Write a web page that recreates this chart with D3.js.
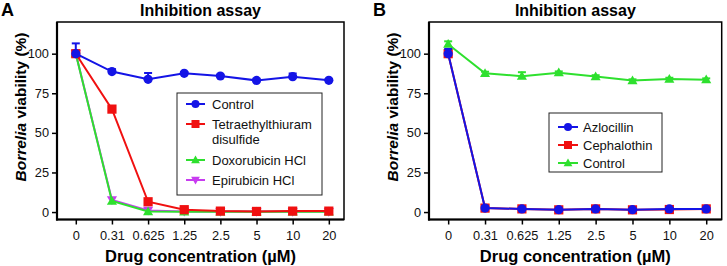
<!DOCTYPE html>
<html><head><meta charset="utf-8">
<script src="https://cdn.jsdelivr.net/npm/d3@7"></script>
<style>body{margin:0;background:#fff;} svg{display:block;font-family:"Liberation Sans",Arial,sans-serif;}</style>
</head><body><svg id="c" width="727" height="266"></svg>
<script>
const categories = ["0","0.31","0.625","1.25","2.5","5","10","20"];
const yTicks = [0,25,50,75,100];

// Panel A
const aControl = [100, 88.7, 83.8, 87.6, 85.9, 83.1, 85.5, 83.2];
const aControlErr = [6.5, 1.5, 4, 0.8, 0.8, 0.8, 2, 0.8];
const aTetra = [100, 65, 6.5, 1.5, 0.6, 0.4, 0.6, 0.6];
const aDoxo = [100, 7, 0.3, 0.2, 0.2, 0.2, 0.2, 0.2];
const aEpi = [100, 7.6, 1, 0.4, 0.3, 0.3, 0.3, 0.3];

// Panel B
const bAzlo = [100, 2.5, 2, 1.5, 2, 1.5, 2, 2];
const bAzloErr = [3, 1, 0.8, 0.5, 0.5, 0.5, 0.5, 0.5];
const bCeph = [100, 2.5, 2, 1.4, 2, 1.4, 1.6, 2];
const bControl = [106, 87.6, 85.8, 88, 85.6, 83, 84, 83.6];
const bControlErr = [1.8, 1, 2.5, 0.8, 0.8, 0.8, 0.8, 0.8];

const C = {blue:"#1414e6", red:"#f01010", green:"#2ee02e", purple:"#c83cf0"};
const svg = d3.select("#c");

function panel(o){
  const x = d3.scaleLinear().domain([-0.52, 7.42]).range([o.left, o.right]);
  const y = d3.scaleLinear().domain([-4.7, 120]).range([219.5, 22]);
  const g = svg.append("g");
  g.append("rect").attr("x", o.left).attr("y", 22).attr("width", o.right-o.left).attr("height", 197.5)
    .attr("fill","none").attr("stroke","#000").attr("stroke-width",1.5);
  g.append("line").attr("x1",o.left).attr("x2",o.left).attr("y1",22).attr("y2",220.5).attr("stroke","#000").attr("stroke-width",2.2);
  g.append("line").attr("x1",o.left-1).attr("x2",o.right).attr("y1",219.5).attr("y2",219.5).attr("stroke","#000").attr("stroke-width",2.2);
  const ya = g.append("g").attr("transform",`translate(${o.left},0)`)
    .call(d3.axisLeft(y).tickValues(yTicks).tickSize(5).tickPadding(3));
  ya.select(".domain").remove();
  ya.selectAll("line").attr("stroke-width",1.5);
  ya.selectAll("text").attr("font-size",12.8).attr("font-family","Liberation Sans, Arial").attr("fill","#111");
  const xa = g.append("g").attr("transform",`translate(0,219.5)`)
    .call(d3.axisBottom(x).tickValues(d3.range(categories.length)).tickFormat(i=>categories[i]).tickSize(5).tickPadding(6));
  xa.select(".domain").remove();
  xa.selectAll("line").attr("stroke-width",1.5);
  xa.selectAll("text").attr("font-size",12.8).attr("font-family","Liberation Sans, Arial").attr("fill","#111");
  g.append("text").attr("x",(o.left+o.right)/2).attr("y",16).attr("text-anchor","middle")
    .attr("font-weight","bold").attr("font-size",16).text("Inhibition assay");
  g.append("text").attr("x",o.letterX).attr("y",16).attr("font-weight","bold").attr("font-size",18).text(o.letter);
  g.append("text").attr("x",(o.left+o.right)/2).attr("y",262).attr("text-anchor","middle")
    .attr("font-weight","bold").attr("font-size",16.5).text("Drug concentration (µM)");
  const yt = g.append("text").attr("transform",`translate(${o.ytX},107) rotate(-90)`).attr("text-anchor","middle")
    .attr("font-weight","bold").attr("font-size",15.5);
  yt.append("tspan").attr("font-style","italic").text("Borrelia");
  yt.append("tspan").text(" viability (%)");

  const line = d3.line().x((d,i)=>x(i)).y(d=>y(d));
  o.series.forEach(s=>{
    const sg = g.append("g");
    if (s.err){
      s.values.forEach((v,i)=>{
        const yt = y(v+s.err[i]);
        sg.append("line").attr("x1",x(i)).attr("x2",x(i)).attr("y1",y(v)).attr("y2",yt).attr("stroke",s.color).attr("stroke-width",2);
        sg.append("line").attr("x1",x(i)-4).attr("x2",x(i)+4).attr("y1",yt).attr("y2",yt).attr("stroke",s.color).attr("stroke-width",2);
      });
    }
    sg.append("path").datum(s.values).attr("d",line).attr("fill","none").attr("stroke",s.color).attr("stroke-width",2);
    s.values.forEach((v,i)=>marker(sg, s.shape, x(i), y(v), s.color, 4.6));
  });
  const L = o.legend;
  g.append("rect").attr("x",L.x).attr("y",L.y).attr("width",L.w).attr("height",L.h)
    .attr("fill","#fff").attr("stroke","#222").attr("stroke-width",1);
  L.items.forEach(it=>{
    const lg = g.append("g");
    lg.append("line").attr("x1",L.lx1).attr("x2",L.lx2).attr("y1",it.y).attr("y2",it.y).attr("stroke",it.color).attr("stroke-width",2);
    marker(lg, it.shape, (L.lx1+L.lx2)/2, it.y, it.color, 4);
    it.lines.forEach((t,k)=>{
      lg.append("text").attr("x",L.tx).attr("y",it.y+4.6+k*15.5).attr("font-size",13).attr("fill","#111").text(t);
    });
  });
}

function marker(g, shape, cx, cy, color, r){
  if (shape==="circle") g.append("circle").attr("cx",cx).attr("cy",cy).attr("r",r).attr("fill",color);
  else if (shape==="square") g.append("rect").attr("x",cx-r).attr("y",cy-r).attr("width",2*r).attr("height",2*r).attr("fill",color);
  else if (shape==="up") g.append("path").attr("d",`M${cx},${cy-r*1.1}L${cx+r*1.1},${cy+r*0.8}L${cx-r*1.1},${cy+r*0.8}Z`).attr("fill",color);
  else if (shape==="down") g.append("path").attr("d",`M${cx},${cy+r*1.1}L${cx+r*1.1},${cy-r*0.8}L${cx-r*1.1},${cy-r*0.8}Z`).attr("fill",color);
}

panel({left:57, right:344, letter:"A", letterX:1, ytX:26,
  series:[
    {values:aEpi, color:C.purple, shape:"down"},
    {values:aDoxo, color:C.green, shape:"up"},
    {values:aTetra, color:C.red, shape:"square"},
    {values:aControl, err:aControlErr, color:C.blue, shape:"circle"}
  ],
  legend:{x:177, y:93, w:145, h:102, lx1:186, lx2:205, tx:212,
    items:[
      {y:104, color:C.blue, shape:"circle", lines:["Control"]},
      {y:124, color:C.red, shape:"square", lines:["Tetraethylthiuram","disulfide"]},
      {y:160, color:C.green, shape:"up", lines:["Doxorubicin HCl"]},
      {y:180, color:C.purple, shape:"down", lines:["Epirubicin HCl"]}
    ]}
});

panel({left:429, right:721.7, letter:"B", letterX:373, ytX:398,
  series:[
    {values:bControl, err:bControlErr, color:C.green, shape:"up"},
    {values:bCeph, color:C.red, shape:"square"},
    {values:bAzlo, err:bAzloErr, color:C.blue, shape:"circle"}
  ],
  legend:{x:549, y:113, w:113, h:59, lx1:558, lx2:578, tx:583,
    items:[
      {y:127, color:C.blue, shape:"circle", lines:["Azlocillin"]},
      {y:145, color:C.red, shape:"square", lines:["Cephalothin"]},
      {y:163, color:C.green, shape:"up", lines:["Control"]}
    ]}
});
</script></body></html>
